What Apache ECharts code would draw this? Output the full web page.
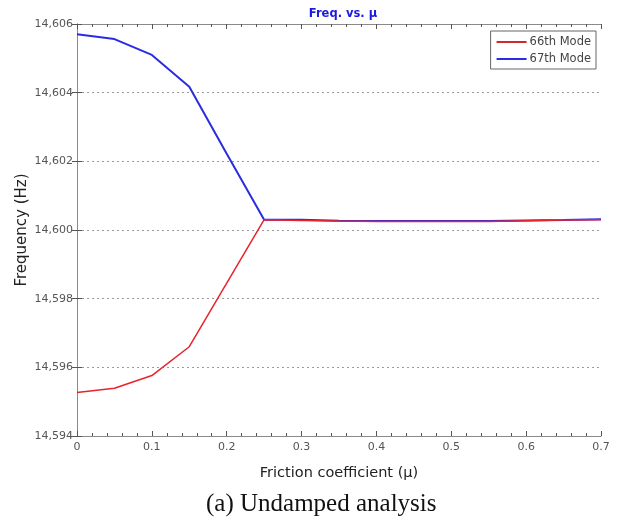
<!DOCTYPE html>
<html><head><meta charset="utf-8">
<script src="https://cdn.jsdelivr.net/npm/echarts@6/dist/echarts.min.js"></script>
<style>html,body{margin:0;padding:0;background:#fff}#c{width:617px;height:525px}</style>
</head><body><div id="c"></div>
<script>
const mu = [0, 0.05, 0.1, 0.15, 0.2, 0.25, 0.3, 0.35, 0.4, 0.45, 0.5, 0.55, 0.6, 0.65, 0.7];
const mode66 = [14595.27, 14595.39, 14595.76, 14596.60, 14598.45, 14600.30, 14600.28, 14600.26, 14600.25, 14600.25, 14600.25, 14600.25, 14600.27, 14600.29, 14600.30];
const mode67 = [14605.70, 14605.56, 14605.10, 14604.17, 14602.22, 14600.30, 14600.30, 14600.27, 14600.26, 14600.26, 14600.26, 14600.26, 14600.28, 14600.29, 14600.31];
const seriesNames = ['66th Mode', '67th Mode'];
const title = 'Freq. vs. \u03bc';
const xName = 'Friction coefficient (\u03bc)';
const yName = 'Frequency (Hz)';
const caption = '(a) Undamped analysis';

const pair = (xs, ys) => xs.map((x, i) => [x, ys[i]]);
const fmtY = v => String(Math.round(v)).replace(/\B(?=(\d{3})+(?!\d))/g, ',');
const font = 'DejaVu Sans, Verdana, sans-serif';
const axisCol = '#8a8a8a';

const chart = echarts.init(document.getElementById('c'));
chart.setOption({
  animation: false,
  backgroundColor: '#fff',
  title: {
    text: title, left: 338, top: 3, textAlign: 'center',
    textStyle: {color: '#1a1ae0', fontSize: 11.5, fontWeight: 'bold', fontFamily: font}
  },
  legend: {
    right: 21, top: 31, orient: 'vertical', itemGap: 5,
    padding: [5, 5, 4, 6],
    borderColor: '#666', borderWidth: 1, backgroundColor: '#fff',
    itemWidth: 30, itemHeight: 2, icon: 'rect',
    textStyle: {color: '#444', fontSize: 11.5, fontFamily: font, padding: [0, 0, 0, -2]},
    data: seriesNames
  },
  grid: {left: 77, right: 16, top: 24, bottom: 89, containLabel: false},
  xAxis: [{
    type: 'value', min: 0, max: 0.7, interval: 0.1,
    name: xName, nameLocation: 'middle', nameGap: 30, nameMoveOverlap: false,
    nameTextStyle: {color: '#222', fontSize: 14.5, fontFamily: font},
    axisLine: {lineStyle: {color: axisCol, width: 1}},
    axisTick: {inside: true, length: 5, lineStyle: {color: '#555'}},
    minorTick: {show: true, splitNumber: 5, length: 3, lineStyle: {color: '#555'}},
    axisLabel: {color: '#555', fontSize: 11, fontFamily: font, margin: 6,
      formatter: v => v === 0 ? '0' : v.toFixed(1)},
    splitLine: {show: false}
  }, {
    type: 'value', min: 0, max: 0.7, interval: 0.1, position: 'top',
    axisLine: {show: true, lineStyle: {color: axisCol, width: 1}},
    axisTick: {inside: true, length: 5, lineStyle: {color: '#555'}},
    minorTick: {show: true, splitNumber: 5, length: 3, lineStyle: {color: '#555'}},
    axisLabel: {show: false}, splitLine: {show: false}
  }],
  yAxis: [{
    type: 'value', min: 14594, max: 14606, interval: 2,
    name: yName, nameLocation: 'middle', nameGap: 47, nameMoveOverlap: false,
    nameTextStyle: {color: '#222', fontSize: 15, fontFamily: font},
    axisLine: {show: true, lineStyle: {color: axisCol, width: 1}},
    axisTick: {show: true, inside: true, length: 5, lineStyle: {color: '#555'}},
    axisLabel: {color: '#555', fontSize: 11, fontFamily: font, margin: 4, formatter: fmtY},
    splitLine: {show: true, lineStyle: {color: '#9a9a9a', type: [2, 3], width: 1}}
  }, {
    type: 'value', min: 14594, max: 14606, interval: 2, position: 'right',
    axisLine: {show: true, lineStyle: {color: axisCol, width: 1}},
    axisTick: {show: true, inside: true, length: 5, lineStyle: {color: '#555'}},
    axisLabel: {show: false}, splitLine: {show: false}
  }],
  series: [{
    name: seriesNames[0], type: 'line', data: pair(mu, mode66),
    showSymbol: false, symbol: 'none', z: 3,
    lineStyle: {color: '#e8232d', width: 1.5}, itemStyle: {color: '#d0282e'}
  }, {
    name: seriesNames[1], type: 'line', data: pair(mu, mode67),
    showSymbol: false, symbol: 'none', z: 2,
    lineStyle: {color: '#2b2be3', width: 2}, itemStyle: {color: '#2b2be3'}
  }],
  graphic: [{
    type: 'text', left: 206, top: 492,
    style: {text: caption, fill: '#111', fontSize: 25, fontFamily: 'Liberation Serif, Times New Roman, serif'}
  }]
});
</script></body></html>
